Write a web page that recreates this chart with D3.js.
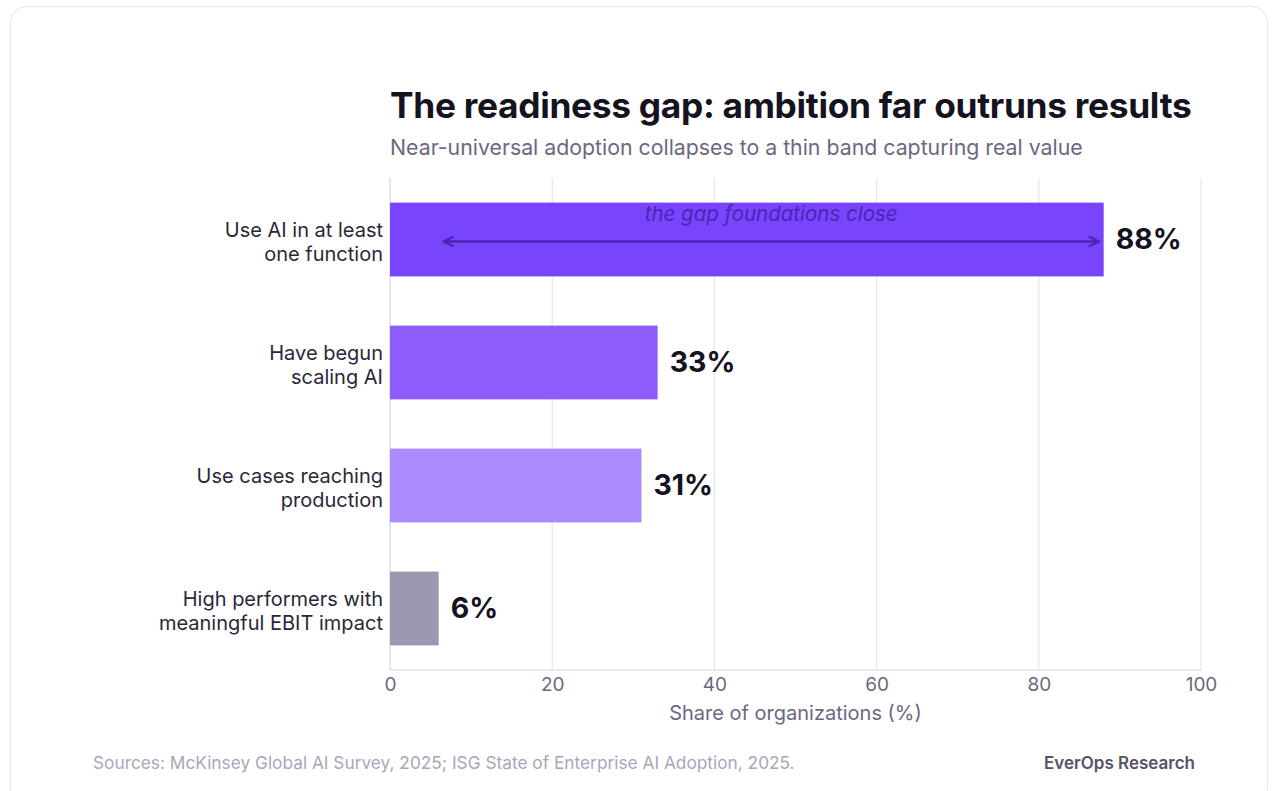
<!DOCTYPE html>
<html><head><meta charset="utf-8">
<script src="https://cdn.jsdelivr.net/npm/d3@7"></script>
<style>
html,body{margin:0;padding:0;background:#fff;}
svg{display:block;font-family:Inter, "Noto Sans", sans-serif;}
</style></head>
<body>
<svg id="c" width="1277" height="791"></svg>
<script>
const categories = [
  ["Use AI in at least", "one function"],
  ["Have begun", "scaling AI"],
  ["Use cases reaching", "production"],
  ["High performers with", "meaningful EBIT impact"]
];
const values = [88, 33, 31, 6];
const barColors = ["#7845fd", "#8d5cfd", "#ab8afd", "#9d98b0"];
const xTicks = [0, 20, 40, 60, 80, 100];
const titleText = "The readiness gap: ambition far outruns results";
const subtitleText = "Near-universal adoption collapses to a thin band capturing real value";
const annotationText = "the gap foundations close";
const xAxisTitle = "Share of organizations (%)";
const sourceText = "Sources: McKinsey Global AI Survey, 2025; ISG State of Enterprise AI Adoption, 2025.";
const brandText = "EverOps Research";

(function(){
const svg = d3.select("#c");
svg.append("rect").attr("x",10.5).attr("y",6.5).attr("width",1257).attr("height",800)
  .attr("rx",16).attr("fill","#fff").attr("stroke","#e6e4ee").attr("stroke-width",1);

const pL = 390, pR = 1201, pT = 178, pB = 670;
const x = d3.scaleLinear().domain([0,100]).range([pL,pR]);
const y = d3.scaleBand().domain(d3.range(categories.length)).range([pT,pB]).paddingInner(0.4).paddingOuter(0.2);

svg.append("g").selectAll("line").data(xTicks).join("line")
  .attr("x1",d=>x(d)).attr("x2",d=>x(d)).attr("y1",pT).attr("y2",pB)
  .attr("stroke",d=>d===0?"#d6d4de":"#e6e4ec").attr("stroke-width",1.2);
svg.append("line").attr("x1",pL).attr("x2",pR).attr("y1",pB).attr("y2",pB)
  .attr("stroke","#d6d4de").attr("stroke-width",1.2);

const ax = svg.append("g").attr("transform",`translate(0,${pB})`)
  .call(d3.axisBottom(x).tickValues(xTicks).tickSize(0).tickPadding(8));
ax.select(".domain").remove();
ax.selectAll("text").attr("font-size",19).attr("fill","#6b6880").attr("font-family","Inter, sans-serif");

svg.append("text").attr("x",(pL+pR)/2).attr("y",720).attr("text-anchor","middle")
  .attr("font-size",20).attr("fill","#6b6880").text(xAxisTitle);

svg.append("g").selectAll("rect").data(values).join("rect")
  .attr("x",x(0)).attr("y",(d,i)=>y(i)).attr("width",d=>x(d)-x(0)).attr("height",y.bandwidth())
  .attr("fill",(d,i)=>barColors[i]);

svg.append("g").selectAll("text").data(values).join("text")
  .attr("x",d=>x(d)+12).attr("y",(d,i)=>y(i)+y.bandwidth()/2).attr("dy","0.34em")
  .attr("font-size",28.5).attr("font-weight",700).attr("fill","#15131f").text(d=>d+"%");

const cl = svg.append("g").selectAll("text").data(categories).join("text")
  .attr("x",pL-7).attr("y",(d,i)=>y(i)+y.bandwidth()/2)
  .attr("text-anchor","end").attr("font-size",20).attr("fill","#2a2838");
cl.selectAll("tspan").data(d=>d).join("tspan")
  .attr("x",pL-7).attr("dy",(d,j)=>j===0?"-0.15em":"1.2em").text(d=>d);

const defs = svg.append("defs");
["s","e"].forEach(k=>{
  defs.append("marker").attr("id","arr"+k).attr("viewBox","0 0 10 10").attr("refX",9).attr("refY",5)
    .attr("markerWidth",5).attr("markerHeight",5).attr("markerUnits","strokeWidth").attr("orient","auto-start-reverse")
    .append("path").attr("d","M1,1 L9,5 L1,9").attr("fill","none").attr("stroke","#4b25b5").attr("stroke-width",2);
});
const ay = y(0) + y.bandwidth()/2 + 2;
svg.append("line").attr("x1",x(d3.min(values))+5).attr("x2",x(d3.max(values))-5)
  .attr("y1",ay).attr("y2",ay).attr("stroke","#4b25b5").attr("stroke-width",2.5)
  .attr("marker-start","url(#arrs)").attr("marker-end","url(#arre)");
svg.append("text").attr("x",(x(d3.min(values))+x(d3.max(values)))/2).attr("y",y(0)+18)
  .attr("text-anchor","middle").attr("font-size",20.5).attr("font-style","italic")
  .attr("fill","#4b25b5").text(annotationText);

svg.append("text").attr("x",pL).attr("y",118).attr("font-size",35.3).attr("font-weight",700)
  .attr("fill","#15131f").attr("letter-spacing","-0.3").text(titleText);
svg.append("text").attr("x",pL).attr("y",155).attr("font-size",21.3)
  .attr("fill","#6b6880").text(subtitleText);

svg.append("text").attr("x",93).attr("y",769).attr("font-size",17.3).attr("fill","#a8a6b8").text(sourceText);
svg.append("text").attr("x",1195).attr("y",769).attr("text-anchor","end").attr("font-size",17)
  .attr("font-weight",600).attr("fill","#555366").text(brandText);
})();
</script>
</body></html>
